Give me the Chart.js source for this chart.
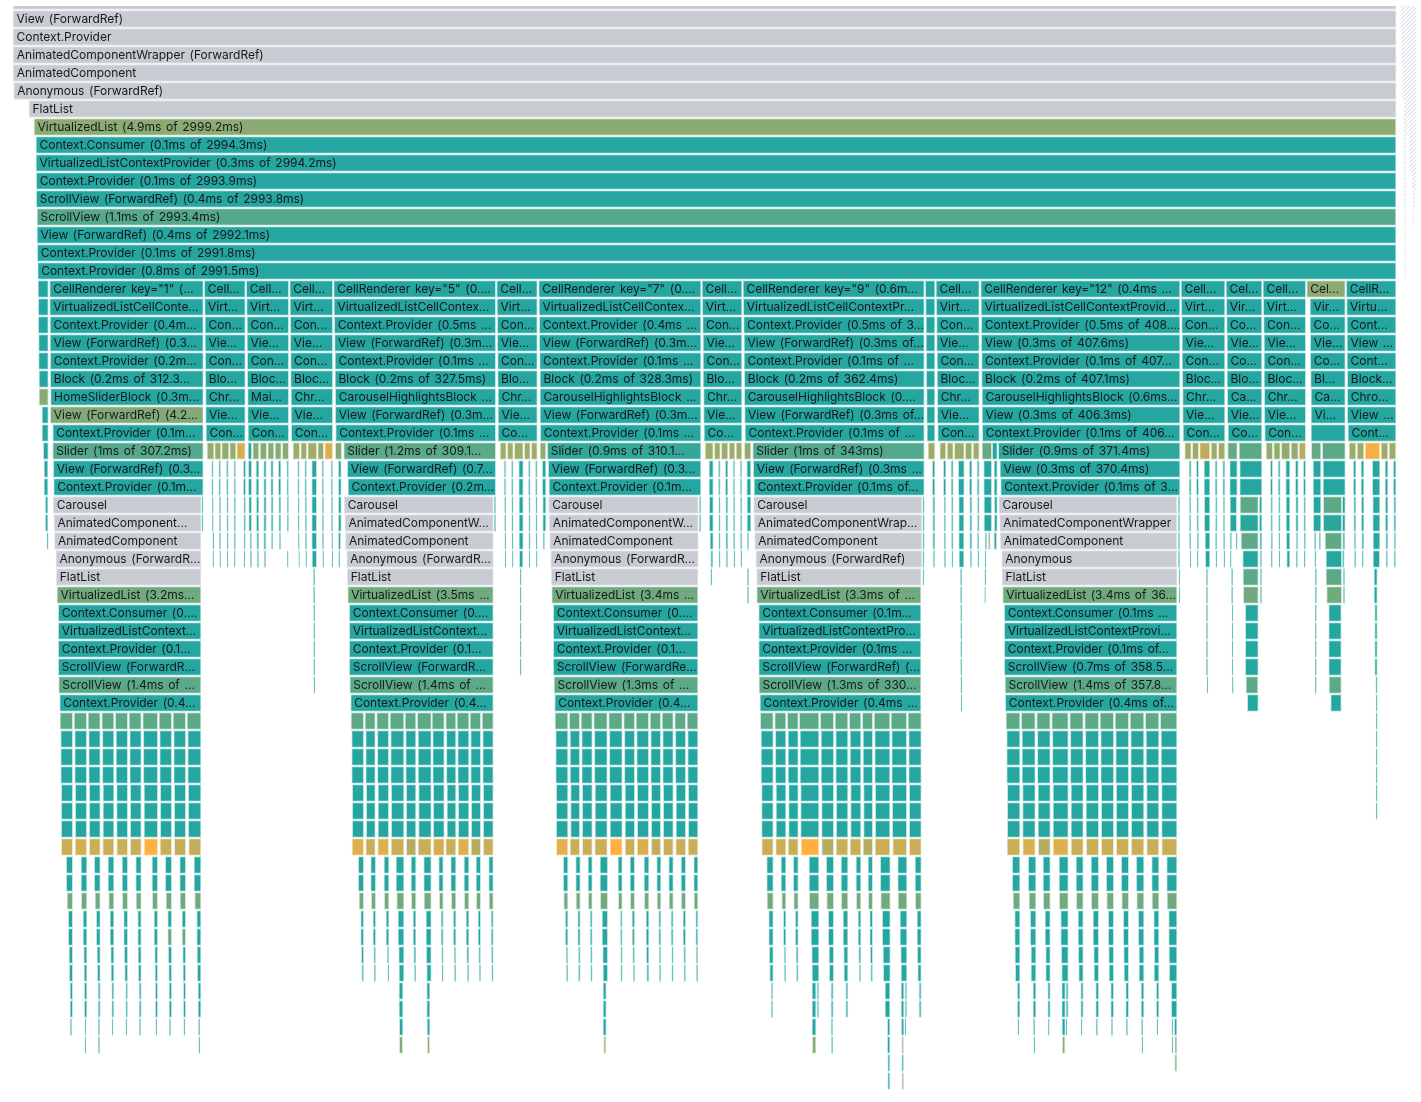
<!DOCTYPE html>
<html><head><meta charset="utf-8">
<style>html,body{margin:0;padding:0;background:#fff}canvas{display:block}</style>
<script src="https://cdn.jsdelivr.net/npm/chart.js@4"></script>
</head><body><canvas id="c" width="1421" height="1102"></canvas>
<script>
// Flame graph data. x values are timeline units, row is call depth, heat is relative self time (-1 = did not render).
const rootNames = ['View (ForwardRef)','Context.Provider','AnimatedComponentWrapper (ForwardRef)','AnimatedComponent','Anonymous (ForwardRef)','FlatList','VirtualizedList (4.9ms of 2999.2ms)','Context.Consumer (0.1ms of 2994.3ms)','VirtualizedListContextProvider (0.3ms of 2994.2ms)','Context.Provider (0.1ms of 2993.9ms)','ScrollView (ForwardRef) (0.4ms of 2993.8ms)','ScrollView (1.1ms of 2993.4ms)','View (ForwardRef) (0.4ms of 2992.1ms)','Context.Provider (0.1ms of 2991.8ms)','Context.Provider (0.8ms of 2991.5ms)'];
const rootStarts = [13,13,13.3,13.3,13.7,29,34,36,36,36.3,36.3,37,37,37.3,37.7];
const rootHeat = [-2,-2,-2,-2,-2,-2,.47,0,0,0,0,.22,0,0,0];
const rootEnd = 1396;

const ends15 = [48.3,203.3,245.3,288.7,332.7,495.7,537.3,701,742,924.3,935,979.3,1180,1225,1262,1305.7,1345.3,1396];
const starts15 = [38,49.7,204.3,246.3,289.7,333.7,496.7,538.7,702,743,925.3,936,980.7,1181,1226,1263,1306.7,1346.3];
const starts16 = [38.3,49.7,204.6,246.6,290,334,497,539,702.3,743.3,925.6,936.3,981,1181.3,1226.3,1263.3,1310,1346.6];
const starts17 = [38.3,50,205,247,290.3,334.3,497.3,539.3,702.6,743.6,926,936.6,981.3,1181.6,1226.6,1263.6,1310,1347];
const starts18 = [38.6,50,205,247,290.3,334.6,497.3,539.3,703,744,926,936.6,981.3,1182,1227,1264,1310.3,1347];
const starts19 = [38.6,50.3,205.3,247.3,290.6,335,497.6,539.6,703,744,926.3,937,981.6,1182,1227,1264,1310.3,1347];
const starts20 = [39,50.3,205.3,247.3,290.6,335,497.6,540,703,744.3,926.3,937,981.6,1182.3,1227,1264,1310.6,1347.3];
const starts21 = [39,50.6,205.6,247.6,291,335.3,498,540,703.6,744.3,926.6,937.3,982,1182.6,1227.3,1264.3,1311,1347.3];
const starts22 = [42,50.3,205.6,247.6,291,335.3,498,540,703.6,744.6,926.6,937.3,982,1182.6,1227.3,1264.3,1311,1347.3];
const starts23 = [42,52.7,206,248,291.3,335.7,498,540.3,704,745,927,937.7,982.3,1183,1228,1264.7,1311,1348];

const names15 = ['','CellRenderer key="1" (…','Cell…','Cell…','Cell…','CellRenderer key="5" (0.…','Cell…','CellRenderer key="7" (0.…','Cell…','CellRenderer key="9" (0.6m…','','Cell…','CellRenderer key="12" (0.4ms …','Cell…','Cel…','Cell…','Cel…','CellR…'];
const names16 = ['','VirtualizedListCellConte…','Virt…','Virt…','Virt…','VirtualizedListCellContex…','Virt…','VirtualizedListCellContex…','Virt…','VirtualizedListCellContextPr…','','Virt…','VirtualizedListCellContextProvid…','Virt…','Vir…','Virt…','Vir…','Virtu…'];
const names17 = ['','Context.Provider (0.4m…','Con…','Con…','Con…','Context.Provider (0.5ms …','Con…','Context.Provider (0.4ms …','Con…','Context.Provider (0.5ms of 3…','','Con…','Context.Provider (0.5ms of 408.…','Con…','Co…','Con…','Co…','Cont…'];
const names18 = ['','View (ForwardRef) (0.3…','Vie…','Vie…','Vie…','View (ForwardRef) (0.3m…','Vie…','View (ForwardRef) (0.3m…','Vie…','View (ForwardRef) (0.3ms of…','','Vie…','View (0.3ms of 407.6ms)','Vie…','Vie…','Vie…','Vie…','View …'];
const names19 = ['','Context.Provider (0.2m…','Con…','Con…','Con…','Context.Provider (0.1ms …','Con…','Context.Provider (0.1ms …','Con…','Context.Provider (0.1ms of …','','Con…','Context.Provider (0.1ms of 407…','Con…','Co…','Con…','Co…','Cont…'];
const names20 = ['','Block (0.2ms of 312.3…','Blo…','Bloc…','Bloc…','Block (0.2ms of 327.5ms)','Blo…','Block (0.2ms of 328.3ms)','Blo…','Block (0.2ms of 362.4ms)','','Bloc…','Block (0.2ms of 407.1ms)','Bloc…','Blo…','Bloc…','Bl…','Block…'];
const names21 = ['','HomeSliderBlock (0.3m…','Chr…','Mai…','Chr…','CarouselHighlightsBlock …','Chr…','CarouselHighlightsBlock …','Chr…','CarouselHighlightsBlock (0.…','','Chr…','CarouselHighlightsBlock (0.6ms…','Chr…','Ca…','Chr…','Ca…','Chro…'];
const names22 = ['','View (ForwardRef) (4.2…','Vie…','Vie…','Vie…','View (ForwardRef) (0.3m…','Vie…','View (ForwardRef) (0.3m…','Vie…','View (ForwardRef) (0.3ms of…','','Vie…','View (0.3ms of 406.3ms)','Vie…','Vie…','Vie…','Vi…','View …'];
const names23 = ['','Context.Provider (0.1m…','Con…','Con…','Con…','Context.Provider (0.1ms …','Co…','Context.Provider (0.1ms …','Co…','Context.Provider (0.1ms of …','','Con…','Context.Provider (0.1ms of 406…','Con…','Co…','Con…','','Cont…'];
const heat15 = [0,0,0,0,0,0,0,0,0,0,0,0,0,0,0,0,.47,0];
const heat21 = [.45,0,0,0,0,0,0,0,0,0,0,0,0,0,0,0,0,0];
const heat22 = [0,.42,0,0,0,0,0,0,0,0,0,0,0,0,0,0,0,0];

const slider24Starts = [43.3,52.7,207,214.7,221.7,229.7,236.7,248,252.7,260,267.7,275,282.3,293,300.7,307.7,317.7,324.7,335.3,343.7,500,507.3,514.3,524.3,531.3,540,547.3,705,714.3,721.3,729,736,744.3,752.7,928,939.7,947,954.3,965.3,973,982,992.3,998.3,1184.7,1192.3,1199.7,1211,1218.3,1227.7,1239,1266,1273.7,1281.3,1291,1299,1311.3,1322.3,1349,1357,1365,1381,1389];
const slider24Ends = [48.3,203.3,214,221,229,236,245.3,251.7,259,266.7,274,281.3,288.7,299.7,306.7,316.7,323.7,332.7,341.7,495.7,506.3,513.3,523.3,530.3,537.3,546,701,713.3,720.3,728,735,742,751,924.3,935,946,953.3,964.3,972,979.3,991.7,997.3,1180,1191.3,1198.7,1210,1217.3,1225,1237.3,1262,1272.7,1280.3,1290,1298.3,1305.7,1321,1345.3,1356,1364,1380,1388,1396];
const slider24Heat = [0,.22,.5,.52,.5,.52,.8,0,.45,.45,.45,.45,.45,.55,.55,.55,.5,.85,.4,.25,.55,.55,.55,.55,.55,.5,.07,.55,.55,.55,.55,.55,.5,.2,.55,.55,.55,.55,.5,.55,.3,0,.05,.55,.55,.7,.55,.55,.3,.25,.5,.5,.5,.5,.65,.3,.25,.55,.55,.95,.55,.55];
const slider24Names = ['','Slider (1ms of 307.2ms)','','','','','','','','','','','','','','','','','','Slider (1.2ms of 309.1…','','','','','','','Slider (0.9ms of 310.1…','','','','','','','Slider (1ms of 343ms)','','','','','','','','','Slider (0.9ms of 371.4ms)','','','','','','','','','','','','','','','','','',''];

const bigEnds25 = [203.3,495.7,701,924.3,1180];
const bigEnds27 = [201,493.3,698.3,921.7,1176.7];
const bigStarts25 = [53.3,347.3,548.3,753.3,1000];
const bigStarts26 = [53.7,348,549,754,1000.7];
const bigStarts27 = [53.3,344.3,548.7,753.7,999];
const bigStarts28 = [54,345,549.3,754.3,999.7];
const bigStarts29 = [54.5,345.5,549.7,754.7,1000.3];
const bigStarts30 = [56,346.7,550.7,756,1001.7];
const names25 = ['View (ForwardRef) (0.3…','View (ForwardRef) (0.7…','View (ForwardRef) (0.3…','View (ForwardRef) (0.3ms …','View (0.3ms of 370.4ms)'];
const names26 = ['Context.Provider (0.1m…','Context.Provider (0.2m…','Context.Provider (0.1m…','Context.Provider (0.1ms of…','Context.Provider (0.1ms of 3…'];
const names27 = ['Carousel','Carousel','Carousel','Carousel','Carousel'];
const names28 = ['AnimatedComponent…','AnimatedComponentW…','AnimatedComponentW…','AnimatedComponentWrap…','AnimatedComponentWrapper'];
const names29 = ['AnimatedComponent','AnimatedComponent','AnimatedComponent','AnimatedComponent','AnimatedComponent'];
const names30 = ['Anonymous (ForwardR…','Anonymous (ForwardR…','Anonymous (ForwardR…','Anonymous (ForwardRef)','Anonymous'];
const names31 = ['FlatList','FlatList','FlatList','FlatList','FlatList'];
const names32 = ['VirtualizedList (3.2ms…','VirtualizedList (3.5ms …','VirtualizedList (3.4ms …','VirtualizedList (3.3ms of …','VirtualizedList (3.4ms of 36…'];
const names33 = ['Context.Consumer (0.…','Context.Consumer (0.…','Context.Consumer (0.…','Context.Consumer (0.1m…','Context.Consumer (0.1ms …'];
const names34 = ['VirtualizedListContext…','VirtualizedListContext…','VirtualizedListContext…','VirtualizedListContextPro…','VirtualizedListContextProvi…'];
const names35 = ['Context.Provider (0.1…','Context.Provider (0.1…','Context.Provider (0.1…','Context.Provider (0.1ms …','Context.Provider (0.1ms of…'];
const names36 = ['ScrollView (ForwardR…','ScrollView (ForwardR…','ScrollView (ForwardRe…','ScrollView (ForwardRef) (…','ScrollView (0.7ms of 358.5…'];
const names37 = ['ScrollView (1.4ms of …','ScrollView (1.4ms of …','ScrollView (1.3ms of …','ScrollView (1.3ms of 330…','ScrollView (1.4ms of 357.8…'];
const names38 = ['Context.Provider (0.4…','Context.Provider (0.4…','Context.Provider (0.4…','Context.Provider (0.4ms …','Context.Provider (0.4ms of…'];
const bigEnds31 = [201,493.3,698,921,1177];
const bigStarts31 = [56.3,347.3,551.3,756.7,1002];
const bigStarts32 = [57,347.7,551.7,756.7,1002.7];
const bigStarts33 = [58.3,349.3,553.3,758.7,1004.3];
const bigStarts37 = [58.7,349.7,554,759,1005];
const bigStarts38 = [59.7,350.7,554.7,760,1005.3];

const stems25 = [44,48, 211.7,213.3, 218.7,220.7, 226.3,228.3, 234,235.7, 243.3,245.7, 248.3,251.7, 256,259, 263.7,266.3, 270.7,273.3, 278.3,281, 286.7,288.7, 297.7,299.3, 304.7,306.7, 311.7,316.7, 322,323.7, 331,332.7, 338.3,341.3, 504,506, 511.3,513.3, 518.7,523.3, 528.3,530.3, 535.3,537.3, 542.3,546, 709,713.3, 718.3,720.3, 725.3,728, 733,735, 740,742, 746.7,751, 932.3,935, 943.3,946, 951,953.3, 958.3,964.3, 969.3,972, 977,979.3, 983.7,991.7, 994,997.3, 1189,1191.3, 1196.3,1198.7, 1204,1210, 1215,1217.3, 1222.7,1225, 1229.7,1237.3, 1239.7,1262, 1270.3,1272.7, 1278,1280.3, 1285.7,1290, 1295.3,1298.3, 1303.3,1305.7, 1313,1321, 1323,1345.3, 1353.3,1356, 1361,1364, 1372.3,1380, 1385,1388, 1393.3,1396];
const stems27 = [45.3,48, 201.7,203, 212.3,213.3, 219.3,220.7, 226.7,228.3, 234,235.7, 243.7,245.7, 248.7,251.7, 256.3,259, 263.7,266.3, 271,273.3, 278.7,281, 287,288.7, 298,299.3, 305,306.7, 311.7,316.7, 322.3,323.7, 331.3,332.7, 338.3,341.3, 494.3,495.7, 504.5,506, 511.7,513.3, 519,523.3, 528.7,530.3, 535.7,537.3, 542.7,546, 699.3,701, 709.3,713.3, 718.7,720.3, 725.7,728, 733.3,735, 740.3,742, 747,751, 922.7,924.3, 932.7,935, 944,945.7, 951.3,953.3, 958.7,964, 969.7,972, 977.3,979.3, 984,991.7, 994.3,997.3, 1178,1180, 1189.3,1191, 1196.7,1198.7, 1204.3,1210, 1215.3,1217.3, 1223,1225, 1230,1236.7, 1259.3,1262, 1270.7,1272.7, 1278.3,1280.3, 1286,1290, 1295.7,1298.3, 1303.7,1305.7, 1313.3,1321, 1342.3,1345.3, 1353.7,1356, 1361.3,1364, 1372.7,1380, 1385.3,1388, 1393.7,1396];
const stems29 = [47,48.3, 212.7,214, 219.3,220.7, 227,228.3, 234,235.7, 244,245.3, 250,251.7, 256.7,259, 263.7,266, 271.3,273, 279.3,280.7, 298.3,299.3, 305.3,306.7, 311.7,316.7, 322.3,323.7, 331.7,332.7, 338.3,340.7, 504.7,506, 512,513.3, 519,523.3, 528.7,530.3, 536,537.3, 543,544.7, 710,713.3, 718.7,720.3, 725.7,728, 733.3,735, 740.3,742, 747.3,748.7, 922.7,924.3, 932.7,935, 944,945.7, 951.3,953.3, 958.7,964, 969.7,972, 977.3,979, 985,986.7, 994,996.7, 1178,1180, 1189.3,1191, 1197,1198.7, 1205,1210, 1215.3,1217, 1223.3,1225, 1230,1231.7, 1236,1237.3, 1259.7,1262, 1271,1272.7, 1278.7,1280, 1286.3,1290, 1296,1298, 1304,1305.7, 1314.3,1316, 1319,1320.7, 1342.7,1345, 1354,1356, 1361.7,1364, 1373,1380, 1385.7,1388, 1394,1396];
const stems30 = [212.7,213.7, 219.7,220.7, 227,228, 234.3,235.3, 244,245, 250.3,251.7, 257,259, 264,266, 287.3,288.3, 298.7,299.5, 305.7,306.7, 312,316.7, 322.7,323.7, 332,332.8, 338.5,340, 505,506, 512.3,513.3, 519.3,523, 529,530, 536.3,537.3, 710.7,713, 719,720.3, 726,728, 733.7,735, 740.7,742, 922.7,924, 933,935, 944.3,945.7, 951.7,953, 959,964, 970,972, 977.7,979, 985,986, 1178,1180, 1190,1191, 1197,1198.3, 1205.3,1210, 1215.7,1217, 1223.7,1225, 1230.3,1231.3, 1242.7,1258.3, 1260,1262, 1271,1272.5, 1279,1280, 1286.7,1290, 1296,1297.7, 1304,1305.3, 1314.7,1316, 1326,1341.7, 1342.3,1344.3, 1354.3,1356, 1362,1363.5, 1373,1379.7, 1386,1387.7, 1394,1395.7];
const warm27 = [1240,1258.3, 1323.3,1341.7];
const warm29 = [988.3,990.3, 1241,1258.3, 1325,1341.7];
const warm31 = [1243,1258.3, 1326,1341.7];
const warm32 = [1243.3,1258.3, 1326.7,1341.7];
const warm37 = [1246,1258, 1329,1341.3];
const stems31 = [313.3,315, 520,521.3, 710.7,712, 747.3,748.7, 923,924, 960.3,962, 984.7,986, 1179,1180, 1206,1208, 1231.3,1233, 1260,1262, 1315,1316.7, 1343.3,1344.7, 1374,1377.3];
const stems32 = [313.3,315, 520,521.3, 747.3,748.7, 960.3,962, 984.7,985.5, 1179,1180, 1206,1208, 1231.3,1233, 1260,1262, 1315,1316.7, 1343.3,1344.7, 1374,1377.3];
const stems33 = [313.5,315, 520,521.3, 960.5,962, 1206,1208, 1232,1233, 1245.3,1258.3, 1315,1316.5, 1328.7,1341.3, 1374.7,1377.3];
const stems37 = [313.7,315, 960.7,962, 1207,1208, 1232.3,1233.3, 1315,1316.5, 1375.7,1377.3];
const stems38 = [961,962, 1247.3,1258.3, 1330.7,1341.3, 1376,1377.3];
const stems44 = [1376,1377.3];

const cellStarts39 = [60,74,88,101.7,115.3,129,142.7,159,173,187,351,365,376.7,390,405,417.3,432,445.7,457,470,482,555,569.3,581,593.7,608.7,623.7,636,650,662,674.7,687,760.3,774.7,787.3,799.3,820.3,835,849.3,862.3,874,891,908,1006,1021.3,1036.7,1051.7,1069.7,1084.7,1100,1115,1130,1145.3,1160.3];
const cellStarts40 = [60.7,74.7,88.7,102.4,116,129.7,143.4,159.7,173.7,187.7,351.7,365.7,377.4,390.7,405.7,418,432.7,446.4,457.7,470.7,482.7,555.7,570,581.7,594.4,609.4,624.4,636.7,650.7,662.7,675.4,687.7,761,775.4,788,800,821,835.7,850,863,874.7,891.7,908.7,1006.7,1022,1037.4,1052.4,1070.4,1085.4,1100.7,1115.7,1130.7,1146,1161];
const cellStarts43 = [61.3,75.3,89.3,103,116.6,130.3,144,160.3,174.3,188.3,352.3,366.3,378,391.3,406.3,418.6,433.3,447,458.3,471.3,483.3,556.3,570.6,582.3,595,610,625,637.3,651.3,663.3,676,688.3,761.6,776,788.6,800.6,821.6,836.3,850.6,863.6,875.3,892.3,909.3,1007.3,1022.6,1038,1053,1071,1086,1101.3,1116.3,1131.3,1146.6,1161.6];
const cellEnds = [72.7,86.7,100.3,114,127.7,141.3,157.7,171.7,185.7,201,363.7,375.3,388.7,404,416,431.3,444.3,456,469,480.7,493.3,568,579.7,592.3,607.3,622.3,634.7,648.7,660.7,673.3,685.7,698,773.3,786,798.3,819,833.7,848,861,872.7,890,906.7,921.3,1020,1035.3,1050.3,1068.3,1083.3,1098.7,1113.7,1128.7,1144,1159,1177];
const hotStarts46 = [61.3,75,89.3,102.7,116.7,130.3,144,160,174.3,188.7,352,365.7,377.7,391,406.3,418,433.3,445.7,458,471,483.3,556.3,570,582.3,594.7,610,625,637,651.3,663.3,675.7,688,761.7,775.7,788,801,821.7,836,850,863,875,892.7,909.3,1007,1022.7,1038.3,1053,1071,1086.3,1101.3,1116.3,1131.3,1146.7,1161.7];
const hotHeat46 = [.75,.8,.75,.75,.75,.75,1,.75,.72,.72,.85,.75,.85,.75,.65,.75,.8,.75,.85,.65,.75,.88,.75,.75,.75,1,.75,.82,.72,.75,.75,.75,.75,.75,.75,1,.65,.75,.75,.65,.75,.75,.75,.75,.82,.65,.85,.75,.75,.75,.75,.75,.75,.75];
const deepEnds = [72.7,87,100.3,114,127.7,141.3,157.7,171.7,185.7,201,363.7,375.7,389,404,416,431.3,443.3,456,469,480.7,493.3,568,580.3,592.3,607.7,622.3,634.7,649,661,673.3,685.7,698,773.3,786,798.3,819,833.7,848,861,872.7,890.3,907,921.3,1020,1036,1050.3,1068.3,1083.3,1098.7,1113.7,1128.7,1144,1159,1177];
const deepStarts47 = [66.3,81,94.3,108,122,135.7,152,165.3,179.7,194,358.3,370.7,384,396,411,423.7,438.7,450.7,464,476,488.7,563.3,575.7,588,600,618,630,644,656.7,668.7,681,693.7,766.7,781,793.3,809,826.3,841,856,868,880.3,897.7,915,1012.3,1028.3,1043,1059,1076,1091,1106.3,1121.3,1136.3,1151.7,1166.7];
const deepStarts49 = [67,81.3,95,108.7,122.3,136,152.3,166,180,194.7,359,371.3,384.3,396.7,411.3,424,439.3,451.3,464.3,476.3,489,563.7,576,588.3,600.3,618.3,630.3,644.3,657,669,681.3,694,767,781.7,793.7,809.3,826.7,841.3,856.3,868.3,880.7,898,915.3,1013,1029,1043.3,1059.3,1076.3,1091.3,1106.7,1121.7,1136.7,1152,1167];
const deepStarts50 = [68.3,83,96.3,110,123.7,137.7,154,167.7,182,196.7,360.7,373,386,398,413,426,441,453.3,466,478,491,565.3,577.7,590,602,620.3,632,646,658.7,671,683,695.7,768.7,783.3,795.3,811,828.3,843,858,869.7,882.3,900,917,1014.7,1030.3,1045,1060.7,1078,1093,1108.3,1123.3,1138.3,1153.7,1168.7];
const deepHeat51 = [0,0,0,0,0,0,0,.3,.3,0,0,0,0,0,0,0,0,0,0,0,0,0,0,0,0,0,.2,0,0,0,0,0,0,0,0,0,0,0,0,0,0,0,0,0,0,0,0,0,0,0,0,0,0,0];
const deepStarts52 = [69,83.7,97,110.7,124.3,138,154.7,168.3,182.7,197,361.3,373.7,387,398.7,413.7,426.3,441.7,454,466.7,478.7,491.3,566,578.3,590.3,602.7,620.7,632.7,646.3,659,671.7,683.7,696,769.3,784,796,811.7,829,843.7,858.7,870.3,883,900.7,917.3,1015,1031,1045.7,1061.3,1078.3,1093.7,1108.7,1123.7,1139,1154.3,1169];
const deepStarts53 = [69.3,84,97.3,111,124.7,138.3,155,168.7,183,197.3,361.7,374,387.7,399,414.3,426.7,442,454.3,467.3,479.3,491.7,566.3,578.3,590.7,603,620.7,633.3,646.7,659.3,671.7,684,696.3,769.7,784.3,796.3,812,829.3,844,859,870.7,883.3,901,917.7,1015.3,1031,1045.7,1061.7,1078.7,1094,1109,1124,1139,1154,1169.3];
const tail54 = [70,72.7, 84.3,87, 98,100.3, 111.7,114, 125.7,127.7, 139,141.3, 155.3,157.7, 169,171.7, 183.3,185.7, 198,201, 399,403, 426.7,430, 603,606.3, 771,773, 812,816, 817,819, 831,833.3, 845.7,848, 885,890, 901,904, 905,907, 919,921.3, 1017.3,1020, 1033,1036, 1047.7,1050.3, 1061.7,1065.3, 1066,1068.3, 1080.7,1083.3, 1095.7,1098.7, 1110.7,1113.7, 1125.7,1128.7, 1141,1144, 1156.3,1159, 1171.3,1177];
const tail56 = [70,72, 85,86, 98.3,99.7, 112,113, 125.7,127, 139.3,140.7, 155.7,157, 169.3,170.7, 183.7,185, 198.3,200, 399.3,403, 427,430, 603,606.3, 812,816, 831,833, 887.3,890, 901.3,904, 905,906, 1017.7,1019, 1033.3,1035, 1048.3,1049.3, 1062,1065.3, 1066,1067, 1081,1082.3, 1096,1097.7, 1111.3,1112.7, 1126,1127.7, 1141.3,1143, 1156.7,1158, 1171.7,1173, 1174.3,1177];
const tail57 = [85,86, 98.3,99.7, 198.7,200, 831.3,833, 887.3,890, 1033.7,1035, 1141.7,1143, 1172,1173];
const warm57 = [399.3,402.7, 427.3,429.7, 603.7,606, 812.3,816, 901.7,903.7, 1062.3,1065, 1174.7,1177];
const tail58 = [887.7,890, 901.7,903.7];
const warm58 = [1174.7,1177];
const tail59 = [887.7,890];
const warm59 = [902,903.7];

const idleSpans = [[-1,1401,1416],[0,1401,1416],[1,1402,1416],[2,1402,1416],[3,1403,1416],[4,1403,1416],[5,1404,1416],[6,1404,1407],[6,1409,1416],[7,1404,1406],[7,1410,1416],[8,1404,1406],[8,1410,1416],[9,1404,1406],[9,1412,1416],[10,1404,1406],[10,1413,1415],[11,1405,1406],[11,1413,1414],[12,1405,1406],[13,1405,1406],[14,1405,1406]];

// ---- build the single dataset from the arrays above
const bars = [];
function addRow(row, starts, ends, heat, names) {
  starts.forEach((s, i) => bars.push({ x: [s, ends[i]], y: row,
    heat: Array.isArray(heat) ? heat[i] : (heat || 0), name: names ? names[i] : '' }));
}
function addPairs(row, pairs, heat) {
  for (let i = 0; i < pairs.length; i += 2) bars.push({ x: [pairs[i], pairs[i + 1]], y: row, heat: heat || 0, name: '' });
}
bars.push({ x: [13, rootEnd], y: -1, heat: -2, name: '' });
rootNames.forEach((n, i) => bars.push({ x: [rootStarts[i], rootEnd], y: i, heat: rootHeat[i], name: n }));
addRow(15, starts15, ends15, heat15, names15);
addRow(16, starts16, ends15, 0, names16);
addRow(17, starts17, ends15, 0, names17);
addRow(18, starts18, ends15, 0, names18);
addRow(19, starts19, ends15, 0, names19);
addRow(20, starts20, ends15, 0, names20);
addRow(21, starts21, ends15, heat21, names21);
addRow(22, starts22, ends15, heat22, names22);
addRow(23, starts23, ends15, 0, names23);
addRow(24, slider24Starts, slider24Ends, slider24Heat, slider24Names);
addRow(25, bigStarts25, bigEnds25, 0, names25); addPairs(25, stems25);
addRow(26, bigStarts26, bigEnds25, 0, names26); addPairs(26, stems25);
addRow(27, bigStarts27, bigEnds27, -2, names27); addPairs(27, stems27); addPairs(27, warm27, .25);
addRow(28, bigStarts28, bigEnds27, -2, names28); addPairs(28, stems27); addPairs(28, warm27, .02);
addRow(29, bigStarts29, bigEnds27, -2, names29); addPairs(29, stems29); addPairs(29, warm29, .27);
addRow(30, bigStarts30, bigEnds27, -2, names30); addPairs(30, stems30);
addRow(31, bigStarts31, bigEnds31, -2, names31); addPairs(31, stems31); addPairs(31, warm31, .25);
addRow(32, bigStarts32, bigEnds31, .35, names32); addPairs(32, stems32); addPairs(32, warm32, .35);
addRow(33, bigStarts33, bigEnds31, 0, names33); addPairs(33, stems33);
addRow(34, bigStarts33, bigEnds31, 0, names34); addPairs(34, stems33);
addRow(35, bigStarts33, bigEnds31, 0, names35); addPairs(35, stems33);
addRow(36, bigStarts33, bigEnds31, 0, names36); addPairs(36, stems33);
addRow(37, bigStarts37, bigEnds31, .25, names37); addPairs(37, stems37); addPairs(37, warm37, .25);
addRow(38, bigStarts38, bigEnds31, 0, names38); addPairs(38, stems38);
addRow(39, cellStarts39, cellEnds, .25);
addRow(40, cellStarts40, cellEnds); addRow(41, cellStarts40, cellEnds); addRow(42, cellStarts40, cellEnds);
addRow(43, cellStarts43, cellEnds); addRow(44, cellStarts43, cellEnds); addRow(45, cellStarts43, cellEnds);
[39, 40, 41, 42, 43, 44].forEach(r => addPairs(r, stems44));
addRow(46, hotStarts46, cellEnds, hotHeat46);
addRow(47, deepStarts47, deepEnds); addRow(48, deepStarts47, deepEnds);
addRow(49, deepStarts49, deepEnds, .35);
addRow(50, deepStarts50, deepEnds); addRow(51, deepStarts50, deepEnds, deepHeat51);
addRow(52, deepStarts52, deepEnds); addRow(53, deepStarts53, deepEnds);
addPairs(54, tail54); addPairs(55, tail54); addPairs(56, tail56);
addPairs(57, tail57); addPairs(57, warm57, .45);
addPairs(58, tail58); addPairs(58, warm58, .4);
addPairs(59, tail59); addPairs(59, warm59, .4);
idleSpans.forEach(s => bars.push({ x: [s[1], s[2]], y: s[0], heat: -1, name: '' }));

// ---- colours
const TEAL = [37, 166, 160], ORANGE = [255, 176, 64];
function mix(h) { return TEAL.map((c, i) => Math.round(c + (ORANGE[i] - c) * h)); }
const hatch = (() => {
  const p = document.createElement('canvas'); p.width = p.height = 4;
  const g = p.getContext('2d');
  g.fillStyle = '#fff'; g.fillRect(0, 0, 4, 4);
  g.strokeStyle = '#dcdee2'; g.lineWidth = 1.1;
  g.beginPath(); g.moveTo(-1, 1); g.lineTo(1, -1); g.moveTo(0, 4); g.lineTo(4, 0); g.moveTo(3, 5); g.lineTo(5, 3); g.stroke();
  return g.createPattern(p, 'repeat');
})();
function fill(h) {
  if (h === -1) return hatch;
  if (h === -2) return '#c8ccd2';
  return 'rgb(' + mix(h).join(',') + ')';
}
function edge(h) {
  if (h === -1) return 'rgba(0,0,0,0)';
  if (h === -2) return '#e3e5e8';
  return 'rgba(' + mix(h).join(',') + ',0.28)';
}

const labelPlugin = {
  id: 'frameLabels',
  afterDatasetsDraw(chart) {
    const ctx = chart.ctx, meta = chart.getDatasetMeta(0);
    ctx.save();
    ctx.font = '12px Inter, "Liberation Sans", sans-serif';
    ctx.letterSpacing = '-0.02px';
    ctx.wordSpacing = '1.3px';
    ctx.fillStyle = '#15191d';
    ctx.textBaseline = 'middle';
    meta.data.forEach((el, i) => {
      const d = bars[i];
      if (!d.name) return;
      const p = el.getProps(['x', 'y', 'base']);
      ctx.save();
      ctx.beginPath(); ctx.rect(p.base, p.y - 9, p.x - p.base, 18); ctx.clip();
      ctx.fillText(d.name, p.base + 3.5, p.y + 0.5);
      ctx.restore();
    });
    ctx.restore();
  }
};

new Chart(document.getElementById('c'), {
  type: 'bar',
  data: { datasets: [{
    data: bars,
    clip: 0,
    barThickness: 17,
    borderSkipped: false,
    backgroundColor: c => c.raw ? fill(c.raw.heat) : '#000',
    borderColor: c => c.raw ? edge(c.raw.heat) : '#000',
    borderWidth: c => c.raw && c.raw.heat === -1 ? 0 : 1
  }] },
  options: {
    indexAxis: 'y', responsive: false, animation: false, events: [],
    layout: { padding: { top: 6 } },
    plugins: { legend: { display: false }, tooltip: { enabled: false } },
    scales: {
      x: { type: 'linear', min: 0, max: 1421, display: false, offset: false },
      y: { type: 'linear', min: -0.7222, max: 60.1667, reverse: true, display: false, offset: false }
    }
  },
  plugins: [labelPlugin]
});
</script></body></html>
